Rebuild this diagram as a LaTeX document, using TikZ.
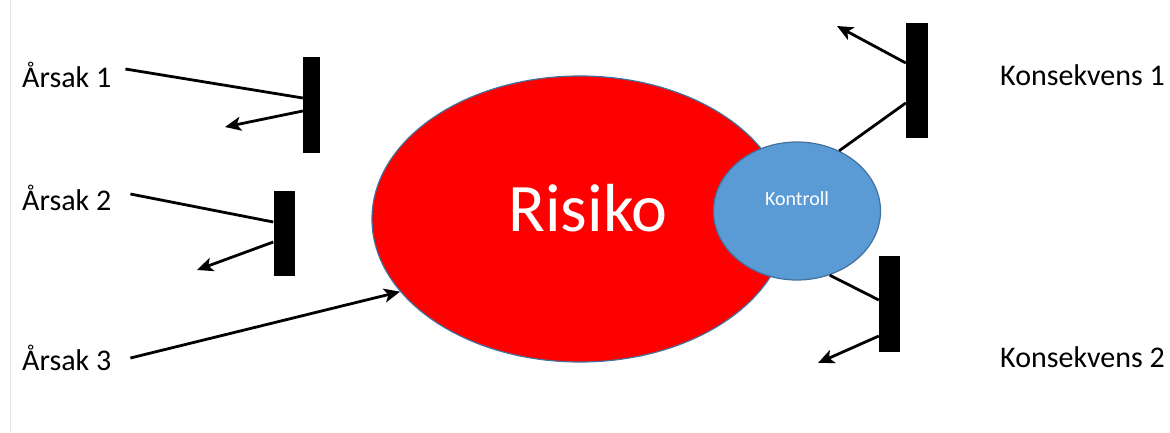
\documentclass[tikz,border=0pt]{standalone}
\usepackage{fontspec}
\setmainfont{Carlito}
\usetikzlibrary{arrows.meta,shapes.geometric,calc,positioning}
\definecolor{ctrlblue}{HTML}{5B9BD5}
\definecolor{shapeedge}{HTML}{41719C}
\tikzset{
	cause/.style={font=\fontsize{30}{36}\selectfont, inner sep=0pt, anchor=west},
	barrier/.style 2 args={fill=black, inner sep=0pt, minimum width=#1, minimum height=#2},
	blob/.style={ellipse, draw=shapeedge, line width=1.2pt, inner sep=0pt},
	wire/.style={line width=2.8pt},
	ar/.style={-{Stealth[length=16pt,width=14pt,inset=4pt]}}
}

\begin{document}
\begin{tikzpicture}[x=1pt,y=-1pt]
   \useasboundingbox (0,0) rectangle (1170,432);
   \draw[gray!20, line width=1pt] (10,0) -- (10,432);

   % risk and control
   \node[blob, fill=red, minimum width=416pt, minimum height=286pt] (risiko) at (580,219) {};
   \node[text=white, font=\fontsize{68}{80}\selectfont] (risikotxt) at (588,208) {Risiko};
   \node[blob, fill=ctrlblue, minimum width=167pt, minimum height=138pt] (ktr) at (797,211) {};
   \node[text=white, font=\fontsize{20}{24}\selectfont] (ktrtxt) at (797,199) {Kontroll};

   % barriers
   \node[barrier={17pt}{96pt}] (b1) at (311.5,105) {};
   \node[barrier={21pt}{85pt}] (b2) at (284,233.5) {};
   \node[barrier={22pt}{115pt}] (k1) at (917,80.5) {};
   \node[barrier={21pt}{96pt}] (k2) at (889.5,304) {};

   % labels
   \node[cause] (a1) at (22,75) {Årsak 1};
   \node[cause] (a2) at (22,198) {Årsak 2};
   \node[cause] (a3) at (22,358) {Årsak 3};
   \node[cause] (c1) at (1000,75) {Konsekvens 1};
   \node[cause] (c2) at (1000,357) {Konsekvens 2};

   \coordinate (a1tip) at (225,127);
   \coordinate (a2tip) at (197,270);
   \coordinate (c1tip) at (837,26);
   \coordinate (c2tip) at (818,363);

   \draw[wire] ([xshift=14pt,yshift=6pt]a1.east) -- ([yshift=7pt]b1.west);
   \draw[wire,ar] ([yshift=-6pt]b1.west) -- (a1tip);
   \draw[wire] ([xshift=19pt,yshift=4pt]a2.east) -- ([yshift=11.5pt]b2.west);
   \draw[wire,ar] ([yshift=-8.5pt]b2.west) -- (a2tip);
   \draw[wire,ar] ([xshift=19pt]a3.east) -- (risiko.202);
   \draw[wire] (ktr.55) -- ([yshift=-22.5pt]k1.west);
   \draw[wire,ar] ([yshift=17.5pt]k1.west) -- (c1tip);
   \draw[wire] (ktr.297) -- ([yshift=4pt]k2.west);
   \draw[wire,ar] ([yshift=-32pt]k2.west) -- (c2tip);
\end{tikzpicture}
\end{document}
